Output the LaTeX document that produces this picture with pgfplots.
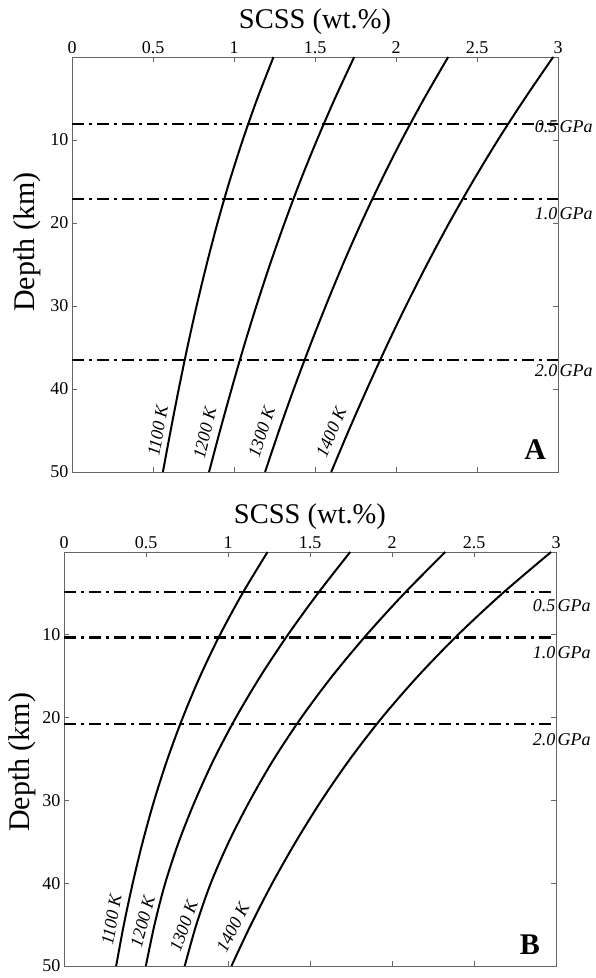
\documentclass[border=0pt]{standalone}
\usepackage{fontspec}
\setmainfont{Liberation Serif}
\usepackage{pgfplots}
\usepackage{pgfplotstable}
\pgfplotsset{compat=1.18}

% depth (km) vs SCSS (wt.%) for each temperature
\pgfplotstableread{
depth k1100 k1200 k1300 k1400
0  1.244 1.742 2.322 2.970
5  1.144 1.623 2.174 2.795
10 1.054 1.512 2.035 2.629
15 0.972 1.408 1.906 2.474
20 0.898 1.312 1.785 2.328
25 0.831 1.222 1.672 2.191
30 0.769 1.138 1.566 2.061
35 0.712 1.059 1.465 1.938
40 0.659 0.985 1.369 1.821
45 0.609 0.914 1.278 1.708
50 0.561 0.846 1.192 1.600
}\dataA

\pgfplotstableread{
depth k1100 k1200 k1300 k1400
0  1.241 1.745 2.325 2.970
5  1.088 1.548 2.075 2.673
10 0.951 1.365 1.845 2.402
15 0.830 1.198 1.635 2.158
20 0.724 1.048 1.447 1.939
25 0.631 0.915 1.280 1.744
30 0.550 0.800 1.134 1.570
35 0.480 0.700 1.005 1.413
40 0.419 0.617 0.895 1.270
45 0.365 0.552 0.807 1.140
50 0.318 0.499 0.736 1.021
}\dataB

\pgfplotsset{
  panel/.style={
    scale only axis,
    xmin=0, xmax=3, ymin=0, ymax=50,
    y dir=reverse,
    xtick={0,0.5,1,1.5,2,2.5,3},
    ytick={10,20,30,40,50},
    xticklabel pos=upper,
    tick align=inside,
    tick pos=both,
    major tick length=5bp,
    axis line style={gray!80!black, line width=0.7pt},
    tick style={gray!80!black, line width=0.7pt},
    ticklabel style={font=\fontsize{18bp}{20bp}\selectfont},
    xlabel style={font=\fontsize{28.5bp}{32bp}\selectfont},
    /pgf/number format/assume math mode=true,
    xlabel={SCSS (wt.\%)},
    clip=false,
  },
  curve/.style={black, line width=2bp, smooth},
  gpa/.style={black, line width=2.5bp, dash pattern=on 12bp off 5bp on 3bp off 5bp},
}
\newcommand{\klab}{\fontsize{18bp}{20bp}\selectfont\itshape}
\newcommand{\plab}{\fontsize{18bp}{20bp}\selectfont\itshape}
\newcommand{\dlab}{\fontsize{30bp}{32bp}\selectfont}

\begin{document}
\begin{tikzpicture}
\path[use as bounding box] (0,0) rectangle (596bp,-978bp);

% panel A
\begin{axis}[panel, at={(72bp,-57bp)}, anchor=north west, width=486bp, height=415bp]
\addplot[curve] table[x=k1100, y=depth] {\dataA};
\addplot[curve] table[x=k1200, y=depth] {\dataA};
\addplot[curve] table[x=k1300, y=depth] {\dataA};
\addplot[curve] table[x=k1400, y=depth] {\dataA};
\addplot[gpa] coordinates {(0,8.1) (3,8.1)};
\addplot[gpa] coordinates {(0,17.1) (3,17.1)};
\addplot[gpa] coordinates {(0,36.5) (3,36.5)};
\node[anchor=east, inner sep=0.5bp, font=\plab] at (axis cs:3,8.4) {0.5};
\node[anchor=west, inner sep=1.5bp, font=\plab] at (axis cs:3,8.4) {GPa};
\node[anchor=east, inner sep=0.5bp, font=\plab] at (axis cs:3,18.9) {1.0};
\node[anchor=west, inner sep=1.5bp, font=\plab] at (axis cs:3,18.9) {GPa};
\node[anchor=east, inner sep=0.5bp, font=\plab] at (axis cs:3,37.8) {2.0};
\node[anchor=west, inner sep=1.5bp, font=\plab] at (axis cs:3,37.8) {GPa};
\node[rotate=80, font=\klab] at (axis cs:0.53,45) {1100 K};
\node[rotate=77, font=\klab] at (axis cs:0.82,45.3) {1200 K};
\node[rotate=72, font=\klab] at (axis cs:1.17,45.2) {1300 K};
\node[rotate=67, font=\klab] at (axis cs:1.60,45.2) {1400 K};
\node[font=\fontsize{30bp}{32bp}\selectfont\bfseries] at (axis cs:2.86,47.3) {A};
\node[rotate=90, font=\dlab] at (axis cs:-0.278,22.3) {Depth (km)};
\end{axis}

% panel B
\begin{axis}[panel, at={(64bp,-552bp)}, anchor=north west, width=492bp, height=414bp]
\addplot[curve] table[x=k1100, y=depth] {\dataB};
\addplot[curve] table[x=k1200, y=depth] {\dataB};
\addplot[curve] table[x=k1300, y=depth] {\dataB};
\addplot[curve] table[x=k1400, y=depth] {\dataB};
\addplot[gpa] coordinates {(0,4.8) (3,4.8)};
\addplot[gpa] coordinates {(0,10.3) (3,10.3)};
\addplot[gpa] coordinates {(0,20.8) (3,20.8)};
\node[anchor=east, inner sep=0.5bp, font=\plab] at (axis cs:3,6.5) {0.5};
\node[anchor=west, inner sep=1.5bp, font=\plab] at (axis cs:3,6.5) {GPa};
\node[anchor=east, inner sep=0.5bp, font=\plab] at (axis cs:3,12.1) {1.0};
\node[anchor=west, inner sep=1.5bp, font=\plab] at (axis cs:3,12.1) {GPa};
\node[anchor=east, inner sep=0.5bp, font=\plab] at (axis cs:3,22.7) {2.0};
\node[anchor=west, inner sep=1.5bp, font=\plab] at (axis cs:3,22.7) {GPa};
\node[rotate=80, font=\klab] at (axis cs:0.29,44.4) {1100 K};
\node[rotate=75, font=\klab] at (axis cs:0.48,44.6) {1200 K};
\node[rotate=70, font=\klab] at (axis cs:0.73,45.2) {1300 K};
\node[rotate=63, font=\klab] at (axis cs:1.03,45.4) {1400 K};
\node[font=\fontsize{30bp}{32bp}\selectfont\bfseries] at (axis cs:2.84,47.4) {B};
\node[rotate=90, font=\dlab] at (axis cs:-0.253,25.4) {Depth (km)};
\end{axis}
\end{tikzpicture}
\end{document}
